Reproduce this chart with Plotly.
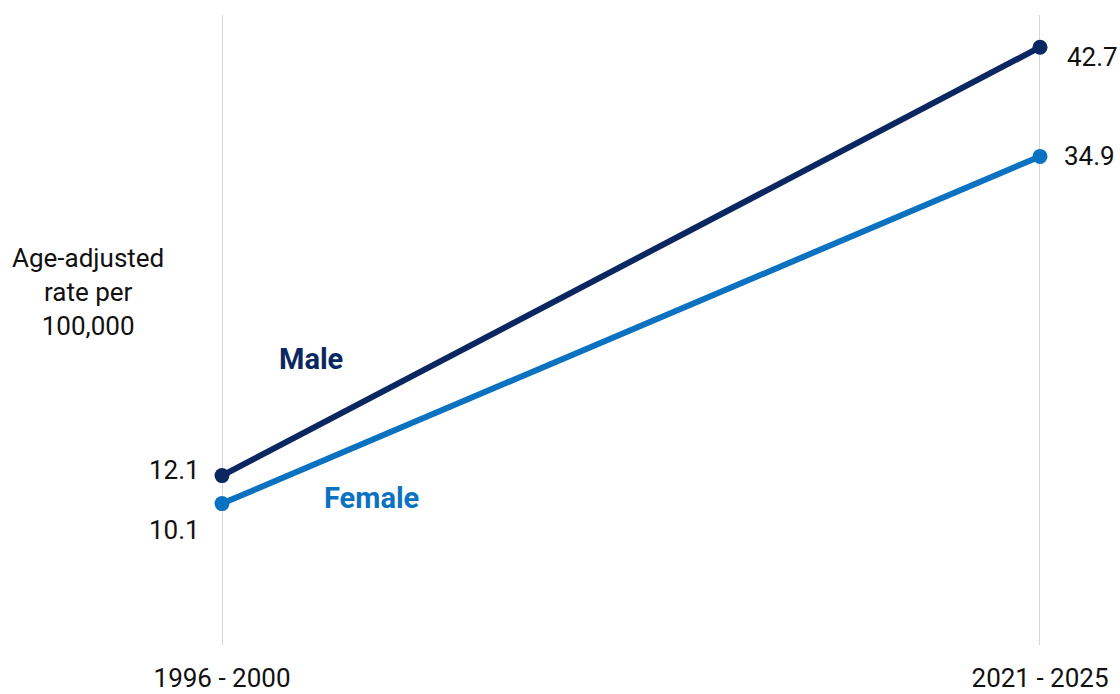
import plotly.graph_objects as go

periods = ["1996 - 2000", "2021 - 2025"]
male = [12.1, 42.7]
female = [10.1, 34.9]
series_names = ["Male", "Female"]

MALE_C = "#0b2762"
FEMALE_C = "#0a72c1"
FONT = "Roboto"

xpos = list(range(len(periods)))

fig = go.Figure()
fig.add_trace(go.Scatter(x=xpos, y=male, mode="lines+markers", name=series_names[0],
                         line=dict(color=MALE_C, width=6), marker=dict(size=15, color=MALE_C),
                         cliponaxis=False, hoverinfo="skip"))
fig.add_trace(go.Scatter(x=xpos, y=female, mode="lines+markers", name=series_names[1],
                         line=dict(color=FEMALE_C, width=6), marker=dict(size=15, color=FEMALE_C),
                         cliponaxis=False, hoverinfo="skip"))

ann = []
# value labels
ann.append(dict(x=xpos[0], y=male[0], text=f"{male[0]:.1f}", xanchor="right", yanchor="middle",
                xshift=-20, yshift=6, showarrow=False))
ann.append(dict(x=xpos[0], y=female[0], text=f"{female[0]:.1f}", xanchor="right", yanchor="middle",
                xshift=-20, yshift=-26, showarrow=False))
ann.append(dict(x=xpos[1], y=male[1], text=f"{male[1]:.1f}", xanchor="left", yanchor="middle",
                xshift=25, yshift=-10, showarrow=False))
ann.append(dict(x=xpos[1], y=female[1], text=f"{female[1]:.1f}", xanchor="left", yanchor="middle",
                xshift=22, yshift=0, showarrow=False))
# series labels
ann.append(dict(x=0.109, y=20.4, text=f"<b>{series_names[0]}</b>", showarrow=False,
                font=dict(color=MALE_C, size=29, family=FONT)))
ann.append(dict(x=0.183, y=10.5, text=f"<b>{series_names[1]}</b>", showarrow=False,
                font=dict(color=FEMALE_C, size=29, family=FONT)))
# y-axis title
ann.append(dict(xref="paper", yref="paper", x=-0.164, y=0.560, text="Age-adjusted<br>rate per<br>100,000",
                showarrow=False, align="center", xanchor="center", yanchor="middle"))

grid_shapes = [dict(type="line", xref="x", yref="paper", x0=p, x1=p, y0=0, y1=1,
                    line=dict(color="#d6d6d6", width=2), layer="below") for p in xpos]

fig.update_layout(
    width=1120, height=694,
    margin=dict(l=222, r=80, t=15, b=49),
    paper_bgcolor="white", plot_bgcolor="white",
    showlegend=False,
    font=dict(family=FONT, size=26, color="#111111"),
    annotations=ann,
    shapes=grid_shapes,
    xaxis=dict(range=[0, 1], tickvals=xpos, ticktext=periods, showgrid=False,
               zeroline=False, showline=False, automargin=False,
               ticks="", ticklabelstandoff=15, fixedrange=True),
    yaxis=dict(range=[0, 45], showgrid=False, zeroline=False, showticklabels=False,
               showline=False, fixedrange=True, automargin=False),
)

fig.write_html("out.html")
